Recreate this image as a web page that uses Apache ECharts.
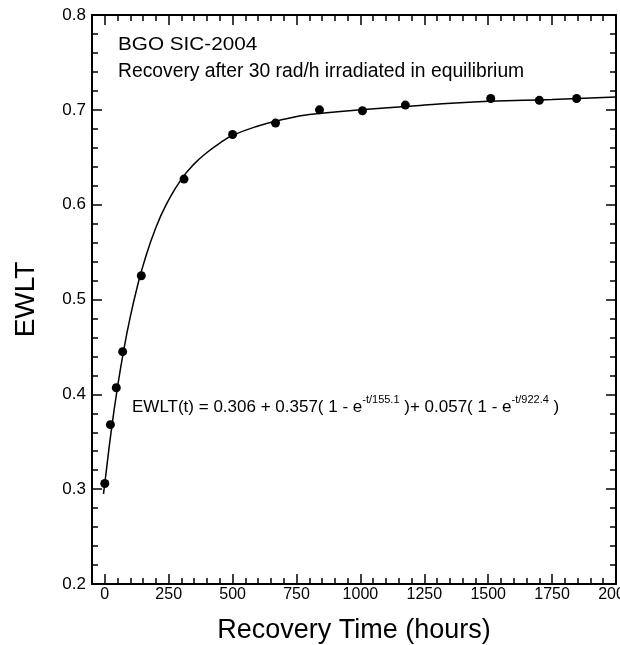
<!DOCTYPE html>
<html>
<head>
<meta charset="utf-8">
<script src="https://cdn.jsdelivr.net/npm/echarts@6/dist/echarts.min.js"></script>
<style>html,body{margin:0;padding:0;background:#fff;}#c{width:620px;height:645px;}</style>
</head>
<body>
<div id="c"></div>
<script>
// measured points: [time (hours), EWLT]
var measTime = [0, 22, 45, 70, 143, 310, 500, 668, 840, 1008, 1176, 1510, 1700, 1846];
var measEWLT = [0.306, 0.368, 0.407, 0.445, 0.525, 0.627, 0.674, 0.686, 0.700, 0.699, 0.705, 0.712, 0.710, 0.712];
// fitted curve
var fitTime = [-5, 0, 25, 50, 75, 100, 125, 150, 200, 250, 300, 350, 400, 450, 500, 600, 700, 800, 1000, 1250, 1500, 1750, 2000];
var fitEWLT = [0.295, 0.306, 0.361, 0.408, 0.448, 0.482, 0.511, 0.536, 0.576, 0.605, 0.627, 0.643, 0.655, 0.665, 0.673, 0.683, 0.690, 0.695, 0.700, 0.705, 0.709, 0.711, 0.7135];
var xMajorTicks = [0, 250, 500, 750, 1000, 1250, 1500, 1750, 2000];
var yTicks = [0.2, 0.3, 0.4, 0.5, 0.6, 0.7, 0.8];

var FONT = 'Liberation Sans';
var chart = echarts.init(document.getElementById('c'), null, {renderer: 'canvas'});

function zip(a, b) { return a.map(function (v, i) { return [v, b[i]]; }); }

var lineStyleAxis = {color: '#000', width: 2};
var tickLine = {color: '#000', width: 1.5};
var xBase = {type: 'value', min: -50, max: 2000, splitLine: {show: false}};
var yBase = {type: 'value', min: yTicks[0], max: yTicks[yTicks.length - 1], splitLine: {show: false}};

function xMinor(pos) {
  return Object.assign({}, xBase, {
    position: pos, interval: 50,
    axisLine: {show: false, onZero: false},
    axisTick: {show: true, inside: true, length: 6, lineStyle: tickLine},
    axisLabel: {show: false}
  });
}
function yMinor(pos) {
  return Object.assign({}, yBase, {
    position: pos, interval: 0.02,
    axisLine: {show: false, onZero: false},
    axisTick: {show: true, inside: true, length: 6, lineStyle: tickLine},
    axisLabel: {show: false}
  });
}

var option = {
  backgroundColor: '#fff',
  animation: false,
  grid: {left: 92, right: 4, top: 15, bottom: 61, containLabel: false, outerBoundsMode: 'none'},
  xAxis: [
    Object.assign({}, xBase, {
      position: 'bottom',
      name: 'Recovery Time (hours)', nameLocation: 'middle', nameGap: 33,
      nameTextStyle: {fontFamily: FONT, fontSize: 27, color: '#000'},
      axisLine: {show: true, onZero: false, lineStyle: lineStyleAxis},
      axisTick: {show: true, inside: true, length: 10, customValues: xMajorTicks, lineStyle: tickLine},
      axisLabel: {show: true, customValues: xMajorTicks, margin: 3, fontFamily: FONT, fontSize: 16, color: '#000',
        formatter: function (v) { return String(v); }}
    }),
    xMinor('bottom'),
    Object.assign({}, xBase, {
      position: 'top',
      axisLine: {show: true, onZero: false, lineStyle: lineStyleAxis},
      axisTick: {show: true, inside: true, length: 10, customValues: xMajorTicks, lineStyle: tickLine},
      axisLabel: {show: false}
    }),
    xMinor('top')
  ],
  yAxis: [
    Object.assign({}, yBase, {
      interval: 0.1, position: 'left',
      name: 'EWLT', nameLocation: 'middle', nameGap: 52, nameRotate: 90,
      nameTextStyle: {fontFamily: FONT, fontSize: 28, color: '#000'},
      axisLine: {show: true, onZero: false, lineStyle: lineStyleAxis},
      axisTick: {show: true, inside: true, length: 10, lineStyle: tickLine},
      axisLabel: {margin: 6, fontFamily: FONT, fontSize: 17, color: '#000', formatter: function (v) { return v.toFixed(1); }}
    }),
    yMinor('left'),
    Object.assign({}, yBase, {
      interval: 0.1, position: 'right',
      axisLine: {show: true, onZero: false, lineStyle: lineStyleAxis},
      axisTick: {show: true, inside: true, length: 10, lineStyle: tickLine},
      axisLabel: {show: false}
    }),
    yMinor('right')
  ],
  series: [
    {
      type: 'line', xAxisIndex: 0, yAxisIndex: 0,
      data: zip(fitTime, fitEWLT), smooth: 0.5, showSymbol: false, symbol: 'none',
      lineStyle: {color: '#000', width: 1.5}, z: 2, clip: true
    },
    {
      type: 'scatter', xAxisIndex: 0, yAxisIndex: 0,
      data: zip(measTime, measEWLT), symbol: 'circle', symbolSize: 9,
      itemStyle: {color: '#000', opacity: 1}, z: 3
    }
  ],
  graphic: [
    {type: 'text', left: 118, top: 36, scaleX: 1.15, style: {text: 'BGO SIC-2004', fontFamily: FONT, fontSize: 18, fill: '#000'}},
    {type: 'text', left: 118, top: 62, style: {text: 'Recovery after 30 rad/h irradiated in equilibrium', fontFamily: FONT, fontSize: 19.3, fill: '#000'}},
    {type: 'text', left: 132, top: 394, style: {
      text: '{m|EWLT(t) = 0.306 + 0.357( 1 - e}{s|-t/155.1}{m| )+ 0.057( 1 - e}{s|-t/922.4}{m| )}',
      fontFamily: FONT, fill: '#000',
      rich: {
        m: {fontFamily: FONT, fontSize: 17, lineHeight: 26, fill: '#000', verticalAlign: 'middle'},
        s: {fontFamily: FONT, fontSize: 11, lineHeight: 11, fill: '#000', verticalAlign: 'top'}
      }
    }}
  ]
};
chart.setOption(option);
</script>
</body>
</html>
